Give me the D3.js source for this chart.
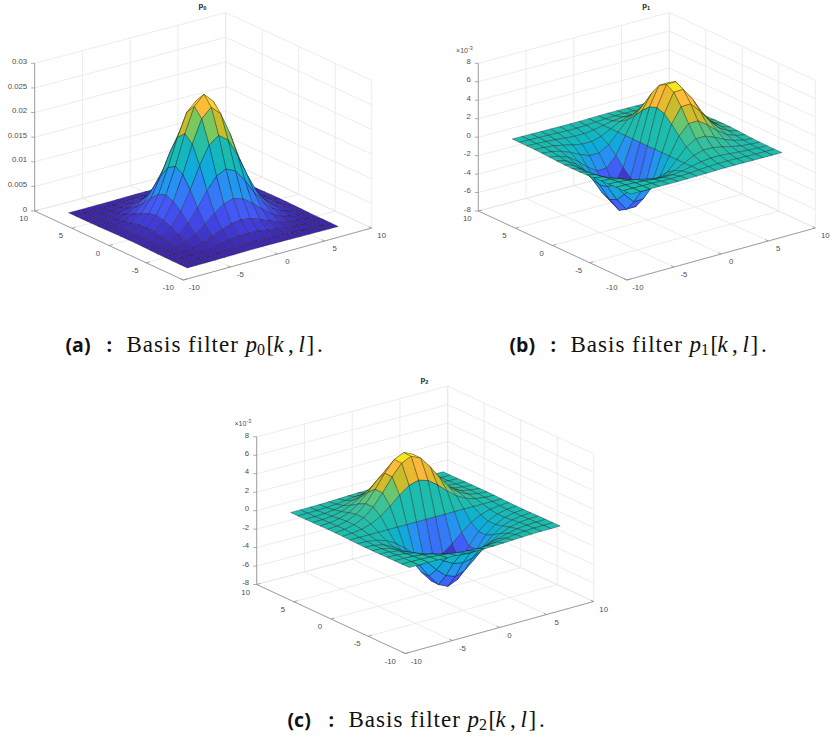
<!DOCTYPE html>
<html>
<head>
<meta charset="utf-8">
<script src="https://cdn.jsdelivr.net/npm/d3@7"></script>
<style>
  html, body { margin: 0; padding: 0; background: #fff; overflow: hidden; }
  text { font-family: "Liberation Sans", sans-serif; }
</style>
</head>
<body>
<div id="chart"></div>
<script>
// grid of the surfaces and axis ticks
var gridValues = [-8,-7,-6,-5,-4,-3,-2,-1,0,1,2,3,4,5,6,7,8];
var floorTicks = [-10,-5,0,5,10];
var zTicksP0 = [0,0.005,0.01,0.015,0.02,0.025,0.03];
var zLabelsP0 = ["0","0.005","0.01","0.015","0.02","0.025","0.03"];
var zTicksP = [-8,-6,-4,-2,0,2,4,6,8];
var zLabelsP = ["-8","-6","-4","-2","0","2","4","6","8"];

// p0, read in units of 1e-5, rows go from y=-8 to y=8
var p0Rows = [
  [0,0,1,2,4,7,11,14,15,14,11,7,4,2,1,0,0],
  [0,1,3,7,14,25,37,47,50,47,37,25,14,7,3,1,0],
  [1,3,8,19,40,70,104,132,143,132,104,70,40,19,8,3,1],
  [2,7,19,47,96,168,251,318,345,318,251,168,96,47,19,7,2],
  [4,14,40,96,197,345,515,654,709,654,515,345,197,96,40,14,4],
  [7,25,70,168,345,604,902,1146,1241,1146,902,604,345,168,70,25,7],
  [11,37,104,251,515,902,1345,1709,1852,1709,1345,902,515,251,104,37,11],
  [14,47,132,318,654,1146,1709,2173,2354,2173,1709,1146,654,318,132,47,14],
  [15,50,143,345,709,1241,1852,2354,2550,2354,1852,1241,709,345,143,50,15],
  [14,47,132,318,654,1146,1709,2173,2354,2173,1709,1146,654,318,132,47,14],
  [11,37,104,251,515,902,1345,1709,1852,1709,1345,902,515,251,104,37,11],
  [7,25,70,168,345,604,902,1146,1241,1146,902,604,345,168,70,25,7],
  [4,14,40,96,197,345,515,654,709,654,515,345,197,96,40,14,4],
  [2,7,19,47,96,168,251,318,345,318,251,168,96,47,19,7,2],
  [1,3,8,19,40,70,104,132,143,132,104,70,40,19,8,3,1],
  [0,1,3,7,14,25,37,47,50,47,37,25,14,7,3,1,0],
  [0,0,1,2,4,7,11,14,15,14,11,7,4,2,1,0,0]
];

// p1, read in units of 1e-6
var p1Rows = [
  [-1,-3,-8,-17,-28,-37,-36,-23,0,23,36,37,28,17,8,3,1],
  [-4,-12,-28,-56,-92,-121,-121,-77,0,77,121,121,92,56,28,12,4],
  [-11,-33,-79,-159,-262,-344,-342,-218,0,218,342,344,262,159,79,33,11],
  [-27,-79,-191,-384,-632,-830,-825,-525,0,525,825,830,632,384,191,79,27],
  [-56,-162,-393,-790,-1298,-1705,-1696,-1078,0,1078,1696,1705,1298,790,393,162,56],
  [-98,-283,-688,-1383,-2273,-2986,-2969,-1887,0,1887,2969,2986,2273,1383,688,283,98],
  [-146,-423,-1027,-2063,-3391,-4454,-4428,-2815,0,2815,4428,4454,3391,2063,1027,423,146],
  [-186,-537,-1305,-2623,-4311,-5662,-5630,-3579,0,3579,5630,5662,4311,2623,1305,537,186],
  [-201,-582,-1414,-2841,-4670,-6134,-6099,-3877,0,3877,6099,6134,4670,2841,1414,582,201],
  [-186,-537,-1305,-2623,-4311,-5662,-5630,-3579,0,3579,5630,5662,4311,2623,1305,537,186],
  [-146,-423,-1027,-2063,-3391,-4454,-4428,-2815,0,2815,4428,4454,3391,2063,1027,423,146],
  [-98,-283,-688,-1383,-2273,-2986,-2969,-1887,0,1887,2969,2986,2273,1383,688,283,98],
  [-56,-162,-393,-790,-1298,-1705,-1696,-1078,0,1078,1696,1705,1298,790,393,162,56],
  [-27,-79,-191,-384,-632,-830,-825,-525,0,525,825,830,632,384,191,79,27],
  [-11,-33,-79,-159,-262,-344,-342,-218,0,218,342,344,262,159,79,33,11],
  [-4,-12,-28,-56,-92,-121,-121,-77,0,77,121,121,92,56,28,12,4],
  [-1,-3,-8,-17,-28,-37,-36,-23,0,23,36,37,28,17,8,3,1]
];

// p2, read in units of 1e-6
var p2Rows = [
  [-1,-4,-11,-27,-56,-98,-146,-186,-201,-186,-146,-98,-56,-27,-11,-4,-1],
  [-3,-12,-33,-79,-162,-283,-423,-537,-582,-537,-423,-283,-162,-79,-33,-12,-3],
  [-8,-28,-79,-191,-393,-688,-1027,-1305,-1414,-1305,-1027,-688,-393,-191,-79,-28,-8],
  [-17,-56,-159,-384,-790,-1383,-2063,-2623,-2841,-2623,-2063,-1383,-790,-384,-159,-56,-17],
  [-28,-92,-262,-632,-1298,-2273,-3391,-4311,-4670,-4311,-3391,-2273,-1298,-632,-262,-92,-28],
  [-37,-121,-344,-830,-1705,-2986,-4454,-5662,-6134,-5662,-4454,-2986,-1705,-830,-344,-121,-37],
  [-36,-121,-342,-825,-1696,-2969,-4428,-5630,-6099,-5630,-4428,-2969,-1696,-825,-342,-121,-36],
  [-23,-77,-218,-525,-1078,-1887,-2815,-3579,-3877,-3579,-2815,-1887,-1078,-525,-218,-77,-23],
  [0,0,0,0,0,0,0,0,0,0,0,0,0,0,0,0,0],
  [23,77,218,525,1078,1887,2815,3579,3877,3579,2815,1887,1078,525,218,77,23],
  [36,121,342,825,1696,2969,4428,5630,6099,5630,4428,2969,1696,825,342,121,36],
  [37,121,344,830,1705,2986,4454,5662,6134,5662,4454,2986,1705,830,344,121,37],
  [28,92,262,632,1298,2273,3391,4311,4670,4311,3391,2273,1298,632,262,92,28],
  [17,56,159,384,790,1383,2063,2623,2841,2623,2063,1383,790,384,159,56,17],
  [8,28,79,191,393,688,1027,1305,1414,1305,1027,688,393,191,79,28,8],
  [3,12,33,79,162,283,423,537,582,537,423,283,162,79,33,12,3],
  [1,4,11,27,56,98,146,186,201,186,146,98,56,27,11,4,1]
];

var parulaStops = [0,0.0625,0.125,0.25,0.375,0.5,0.625,0.67,0.72,0.79,0.82,0.875,0.9375,1];
var parulaColors = ["#3e26a8","#4240e0","#4458fa","#2a8ef5","#0bb0d6","#1cbcae","#4cc48a","#7cc860","#c4bc2c","#e8ba30","#fdb93c","#fdbd38","#f6d82a","#f9fb15"];
var parula = d3.scaleLinear().domain(parulaStops).range(parulaColors);

var svg = d3.select("#chart").append("svg")
  .attr("width", 830)
  .attr("height", 738);

// floor corners of the box in panel pixels (the picture is not quite a parallelogram)
var corner = {
  front: [183.3, 280],
  right: [371.7, 228],
  left: [34.7, 211],
  back: [225.7, 160.3]
};
var boxHeight = 147.7;
var u = d3.scaleLinear().domain([-10,10]).range([0,1]);
var v = d3.scaleLinear().domain([-10,10]).range([0,1]);

function drawPanel(panel) {
  var g = svg.append("g").attr("transform", "translate(" + panel.dx + "," + panel.dy + ")");
  var z = d3.scaleLinear().domain(panel.zDomain).range([0, -boxHeight]);

  function project(x, y, zv) {
    var a = u(x), b = v(y);
    var px = (1-a)*(1-b)*corner.front[0] + a*(1-b)*corner.right[0] + (1-a)*b*corner.left[0] + a*b*corner.back[0];
    var py = (1-a)*(1-b)*corner.front[1] + a*(1-b)*corner.right[1] + (1-a)*b*corner.left[1] + a*b*corner.back[1];
    return [px, py + z(zv)];
  }
  function seg(p, q, color, w) {
    g.append("line")
      .attr("x1", p[0]).attr("y1", p[1])
      .attr("x2", q[0]).attr("y2", q[1])
      .attr("stroke", color)
      .attr("stroke-width", w);
  }
  var zMin = panel.zDomain[0], zMax = panel.zDomain[1];
  var gridColor = "#e4e4e4";

  // floor and wall grid
  floorTicks.forEach(function(t) {
    seg(project(t,-10,zMin), project(t,10,zMin), gridColor, 0.7);
    seg(project(-10,t,zMin), project(10,t,zMin), gridColor, 0.7);
    seg(project(t,10,zMin), project(t,10,zMax), gridColor, 0.7);
    seg(project(10,t,zMin), project(10,t,zMax), gridColor, 0.7);
  });
  panel.zTicks.forEach(function(t) {
    seg(project(-10,10,t), project(10,10,t), gridColor, 0.7);
    seg(project(10,10,t), project(10,-10,t), gridColor, 0.7);
  });

  // axis lines and ticks
  var axisColor = "#8a8a8a", textColor = "#4d4d4d";
  seg(project(-10,10,zMin), project(-10,-10,zMin), axisColor, 0.8);
  seg(project(-10,-10,zMin), project(10,-10,zMin), axisColor, 0.8);
  seg(project(-10,10,zMin), project(-10,10,zMax), axisColor, 0.8);

  floorTicks.forEach(function(t, i) {
    seg(project(t,-10,zMin), project(t,-9.6,zMin), axisColor, 0.7);
    seg(project(-10,t,zMin), project(-9.6,t,zMin), axisColor, 0.7);
    var px = project(t,-10,zMin), py = project(-10,t,zMin);
    g.append("text").attr("x", px[0] + (t == -10 ? 11 : 10)).attr("y", px[1] + 10)
      .attr("text-anchor", "middle").attr("font-size", 7.8).attr("fill", textColor).text(t);
    g.append("text").attr("x", py[0] - (t == -10 ? 15 : 11)).attr("y", py[1] + 10)
      .attr("text-anchor", "middle").attr("font-size", 7.8).attr("fill", textColor).text(t);
  });
  panel.zTicks.forEach(function(t, i) {
    var p = project(-10,10,t);
    seg(p, [p[0]-3.5, p[1]], axisColor, 0.7);
    g.append("text").attr("x", p[0]-7.5).attr("y", p[1]+0.7)
      .attr("text-anchor", "end").attr("font-size", 7.8).attr("fill", textColor).text(panel.zLabels[i]);
  });

  // surface faces, back to front, coloured from the lowest corner index like surf does
  var rows = panel.rows;
  var cMin = d3.min(rows, function(r) { return d3.min(r); });
  var cMax = d3.max(rows, function(r) { return d3.max(r); });
  var color = d3.scaleLinear().domain([cMin, cMax]).range([0,1]);
  var faces = [];
  for (var j = 0; j < gridValues.length-1; j++) {
    for (var i = 0; i < gridValues.length-1; i++) {
      faces.push({i: i, j: j});
    }
  }
  faces.sort(function(a, b) { return d3.descending(a.i + a.j, b.i + b.j); });
  var line = d3.line();
  g.append("g").selectAll("path").data(faces).enter().append("path")
    .attr("d", function(d) {
      var x0 = gridValues[d.i], x1 = gridValues[d.i+1], y0 = gridValues[d.j], y1 = gridValues[d.j+1];
      return line([
        project(x0,y0,rows[d.j][d.i]),
        project(x1,y0,rows[d.j][d.i+1]),
        project(x1,y1,rows[d.j+1][d.i+1]),
        project(x0,y1,rows[d.j+1][d.i])
      ]) + "Z";
    })
    .attr("fill", function(d) { return parula(color(rows[d.j][d.i])); })
    .attr("stroke", "#161616")
    .attr("stroke-opacity", 0.62)
    .attr("stroke-width", 0.55)
    .attr("stroke-linejoin", "round");

  // title
  var title = g.append("text").attr("x", 202.5).attr("y", 8.3)
    .attr("text-anchor", "middle").attr("font-size", 7.8).attr("font-weight", "bold").attr("fill", "#1a1a1a");
  title.append("tspan").text("p");
  title.append("tspan").attr("font-size", 5.6).attr("dy", 1.8).text(panel.index);

  // exponent label
  if (panel.exponent) {
    var e = g.append("text").attr("x", 12.5).attr("y", 52.5).attr("font-size", 7).attr("fill", textColor);
    e.append("tspan").text("\u00d710");
    e.append("tspan").attr("font-size", 5.4).attr("dy", -2.6).text("-3");
  }
}

drawPanel({dx: 0, dy: 0, rows: p0Rows.map(function(r) { return r.map(function(d) { return d*1e-5; }); }),
  zDomain: [0,0.03], zTicks: zTicksP0, zLabels: zLabelsP0, index: "0", exponent: false});
drawPanel({dx: 443.6, dy: 0, rows: p1Rows.map(function(r) { return r.map(function(d) { return d*1e-3; }); }),
  zDomain: [-8,8], zTicks: zTicksP, zLabels: zLabelsP, index: "1", exponent: true});
drawPanel({dx: 222, dy: 373.5, rows: p2Rows.map(function(r) { return r.map(function(d) { return d*1e-3; }); }),
  zDomain: [-8,8], zTicks: zTicksP, zLabels: zLabelsP, index: "2", exponent: true});

// captions, pieces placed one by one because the math spacing is wide
function caption(x, y, letter, sub) {
  function piece(dx, str, size, family, weight, style, dy) {
    svg.append("text").attr("x", x + dx).attr("y", y + (dy || 0))
      .attr("fill", "#111")
      .attr("style", "font-family:'" + family + "';font-size:" + size + "px;font-weight:" + weight + ";font-style:" + style)
      .text(str);
  }
  piece(0, "(" + letter + ")", 19.5, "Open Sans", "bold", "normal");
  piece(41, ":", 19.5, "Open Sans", "bold", "normal");
  svg.append("text").attr("x", x + 61).attr("y", y).attr("fill", "#111")
    .attr("style", "font-family:'Liberation Serif';font-size:23px;letter-spacing:1px")
    .text("Basis filter");
  piece(180, "p", 23, "Liberation Serif", "normal", "italic");
  piece(191.5, sub, 16, "Liberation Serif", "normal", "normal", 3);
  piece(201, "[", 23, "Liberation Serif", "normal", "normal");
  piece(208, "k", 23, "Liberation Serif", "normal", "italic");
  piece(222.5, ",", 23, "Liberation Serif", "normal", "normal");
  piece(233, "l", 23, "Liberation Serif", "normal", "italic");
  piece(241, "]", 23, "Liberation Serif", "normal", "normal");
  piece(251.5, ".", 23, "Liberation Serif", "normal", "normal");
}
caption(65.5, 351.5, "a", "0");
caption(509.5, 351.5, "b", "1");
caption(287.5, 726.5, "c", "2");
</script>
</body>
</html>
